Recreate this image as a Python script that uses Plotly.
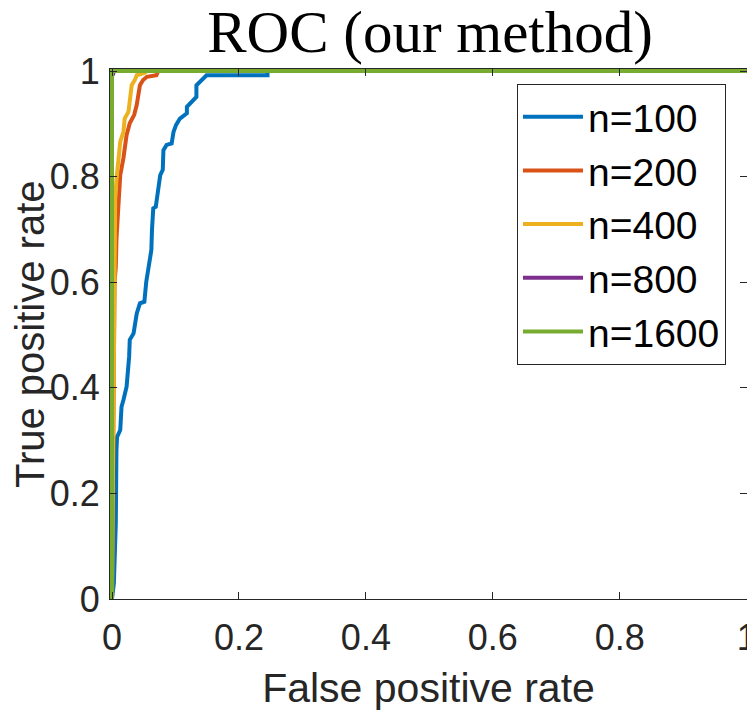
import plotly.graph_objects as go

# ROC curves (FPR, TPR)
labels = ['n=100', 'n=200', 'n=400', 'n=800', 'n=1600']
colors = ['#0072BD', '#D95319', '#EDB120', '#7E2F8E', '#77AC30']

fpr_100 = [0, 0.003, 0.005, 0.006, 0.007, 0.008, 0.013, 0.015, 0.018, 0.023, 0.027, 0.028,
           0.034, 0.039, 0.044, 0.051, 0.054, 0.057, 0.060, 0.062, 0.063, 0.065, 0.069,
           0.073, 0.076, 0.080, 0.081, 0.086, 0.094, 0.097, 0.101, 0.107, 0.118, 0.118,
           0.125, 0.133, 0.133, 0.141, 0.149, 0.245, 0.245, 1]
tpr_100 = [0, 0.030, 0.106, 0.143, 0.282, 0.307, 0.320, 0.364, 0.377, 0.402, 0.459, 0.491,
           0.503, 0.541, 0.560, 0.563, 0.601, 0.620, 0.642, 0.661, 0.699, 0.740, 0.743,
           0.787, 0.803, 0.813, 0.850, 0.860, 0.863, 0.885, 0.898, 0.910, 0.920, 0.932,
           0.942, 0.951, 0.973, 0.983, 0.992, 0.992, 1.0, 1]

fpr_200 = [0, 0.003, 0.004, 0.006, 0.007, 0.010, 0.013, 0.013, 0.018, 0.020, 0.023, 0.028,
           0.031, 0.035, 0.039, 0.041, 0.044, 0.049, 0.055, 0.070, 0.073, 1]
tpr_200 = [0, 0.450, 0.600, 0.629, 0.680, 0.743, 0.794, 0.803, 0.835, 0.860, 0.879, 0.901,
           0.910, 0.917, 0.936, 0.951, 0.973, 0.983, 0.989, 0.992, 1.0, 1]

fpr_400 = [0, 0.002, 0.004, 0.005, 0.005, 0.007, 0.010, 0.013, 0.018, 0.020, 0.026, 0.028,
           0.031, 0.036, 0.039, 0.052, 0.055, 1]
tpr_400 = [0, 0.400, 0.650, 0.737, 0.756, 0.794, 0.828, 0.866, 0.885, 0.910, 0.923, 0.948,
           0.973, 0.983, 0.992, 0.997, 1.0, 1]

fpr_800 = [0, 0, 0.002, 0.003, 1]
tpr_800 = [0, 0.990, 0.995, 1.0, 1]

fpr_1600 = [0, 0, 1]
tpr_1600 = [0, 1.0, 1]

curves = [(fpr_100, tpr_100), (fpr_200, tpr_200), (fpr_400, tpr_400),
          (fpr_800, tpr_800), (fpr_1600, tpr_1600)]

fig = go.Figure()
for (fx, ty), name, col in zip(curves, labels, colors):
    fig.add_trace(go.Scatter(x=fx, y=ty, mode='lines', name=name,
                             line=dict(color=col, width=4)))

axis_style = dict(showgrid=False, zeroline=False, showline=True, linecolor='#262626',
                  linewidth=1, mirror='ticks', ticks='inside', ticklen=7,
                  tickcolor='#262626', tickwidth=1, automargin=False,
                  ticklabeloverflow='allow',
                  tickfont=dict(family='Liberation Sans, Arial', size=36, color='#262626'),
                  tickvals=[0, 0.2, 0.4, 0.6, 0.8, 1],
                  ticktext=['0', '0.2', '0.4', '0.6', '0.8', '1'])

# page body adds an 8px offset, so the figure is 8px smaller than the window
fig.update_layout(
    width=747, height=706,
    margin=dict(l=102, r=8, t=61, b=115),
    plot_bgcolor='white', paper_bgcolor='white',
    title=dict(text='ROC (our method)', x=0.565, xanchor='center',
               yref='container', y=0.938, yanchor='bottom', automargin=False,
               font=dict(family='Liberation Serif, Times New Roman', size=59, color='black')),
    xaxis=dict(range=[-0.00315, 1.0005], **axis_style, ticklabelstandoff=7,
               title=dict(text='False positive rate', standoff=16,
                          font=dict(family='Liberation Sans, Arial', size=41, color='#262626'))),
    yaxis=dict(range=[0, 1.0038], **axis_style, ticklabelstandoff=2),
    legend=dict(x=0.967, xanchor='right', y=0.972, yanchor='top',
                bgcolor='white', bordercolor='#262626', borderwidth=1,
                font=dict(family='Liberation Sans, Arial', size=39, color='black'),
                itemwidth=60),
    showlegend=True,
)

# y axis title as a rotated annotation so it can sit close to the page edge
fig.add_annotation(text='True positive rate', textangle=-90, showarrow=False,
                   xref='paper', x=-104 / 637, xanchor='left',
                   yref='paper', y=0.5, yanchor='middle',
                   font=dict(family='Liberation Sans, Arial', size=40, color='#262626'))

fig.write_html('out.html')
